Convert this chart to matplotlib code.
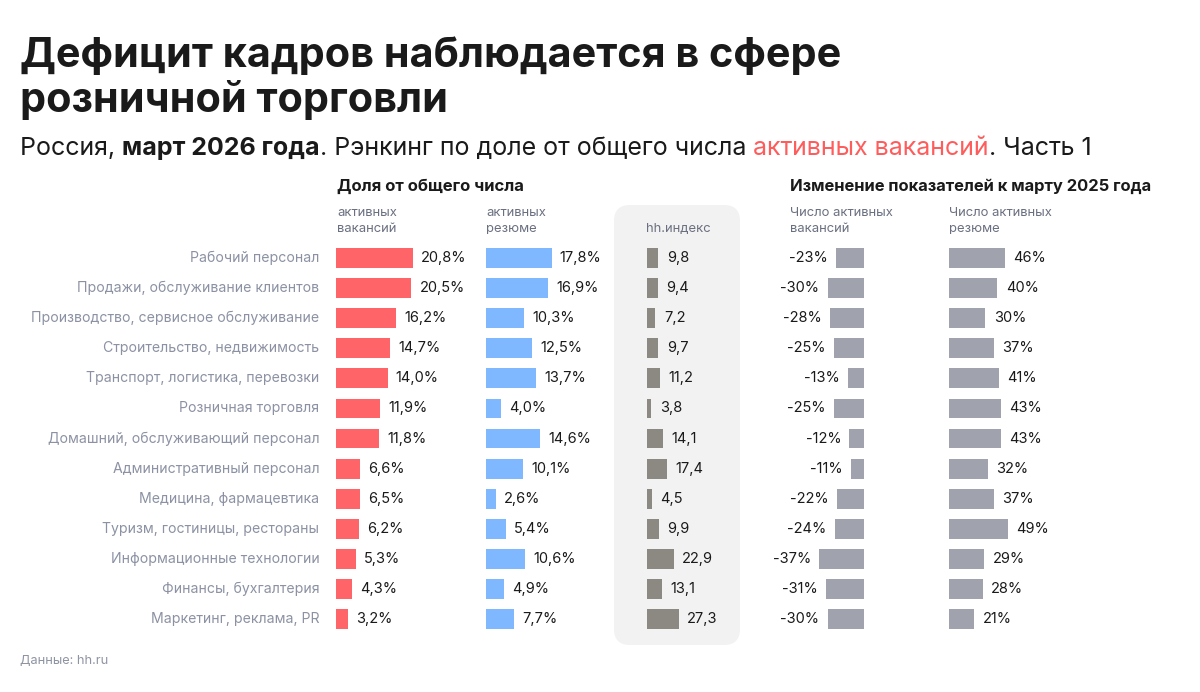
import matplotlib
matplotlib.use("Agg")
import matplotlib.pyplot as plt
from matplotlib.patches import FancyBboxPatch

plt.rcParams['font.family'] = ['Inter', 'DejaVu Sans']

categories = ["Рабочий персонал", "Продажи, обслуживание клиентов",
              "Производство, сервисное обслуживание", "Строительство, недвижимость",
              "Транспорт, логистика, перевозки", "Розничная торговля",
              "Домашний, обслуживающий персонал", "Административный персонал",
              "Медицина, фармацевтика", "Туризм, гостиницы, рестораны",
              "Информационные технологии", "Финансы, бухгалтерия",
              "Маркетинг, реклама, PR"]
share_vacancies = [20.8, 20.5, 16.2, 14.7, 14.0, 11.9, 11.8, 6.6, 6.5, 6.2, 5.3, 4.3, 3.2]
share_resumes = [17.8, 16.9, 10.3, 12.5, 13.7, 4.0, 14.6, 10.1, 2.6, 5.4, 10.6, 4.9, 7.7]
hh_index = [9.8, 9.4, 7.2, 9.7, 11.2, 3.8, 14.1, 17.4, 4.5, 9.9, 22.9, 13.1, 27.3]
change_vacancies = [-23, -30, -28, -25, -13, -25, -12, -11, -22, -24, -37, -31, -30]
change_resumes = [46, 40, 30, 37, 41, 43, 43, 32, 37, 49, 29, 28, 21]

W, H = 1200, 692
fig = plt.figure(figsize=(W / 100, H / 100), dpi=100)
fig.patch.set_facecolor("white")

DARK = "#1a1a1a"
GREY_TXT = "#8c92a3"
SUB_TXT = "#6b7080"
RED = "#ff6468"
BLUE = "#80b8ff"
HHC = "#8b8981"
CHG = "#a0a3ad"


def fx(px):
    return px / W


def fy(py):
    return 1 - py / H


# hh.index panel
panel = FancyBboxPatch((6.14, (H - 645) / 100), 1.26, 4.40,
                       boxstyle="round,pad=0,rounding_size=0.16",
                       transform=fig.dpi_scale_trans, facecolor="#f2f2f2",
                       edgecolor="none", zorder=-5)
fig.patches.append(panel)

# Row geometry
n = len(categories)
row_top, row_step = 243, 30.08
ax_top = row_top
ax_bottom = row_top + row_step * n
BAR_H = 0.66
FS_VAL = 10.5
FS_CAT = 10.15


def make_ax(left_px, width_px, xlim):
    ax = fig.add_axes([fx(left_px), fy(ax_bottom), width_px / W, (ax_bottom - ax_top) / H])
    ax.set_xlim(*xlim)
    ax.set_ylim(n - 0.5, -0.5)
    ax.axis("off")
    ax.patch.set_alpha(0)
    return ax


def fmt1(v):
    return f"{v:.1f}".replace(".", ",")


ys = list(range(n))

# Share of vacancies
SC = 3.68
ax1 = make_ax(336, 130, (0, 130 / SC))
ax1.barh(ys, share_vacancies, height=BAR_H, color=RED)
for y, v in zip(ys, share_vacancies):
    ax1.annotate(fmt1(v) + "%", (v, y), xytext=(6, 0), textcoords="offset points",
                 va="center", ha="left", fontsize=FS_VAL, color=DARK)
for y, c in zip(ys, categories):
    ax1.annotate(c, (0, y), xytext=(-12, 0), textcoords="offset points",
                 va="center", ha="right", fontsize=FS_CAT, color=GREY_TXT)

# Share of resumes
ax2 = make_ax(486, 120, (0, 120 / SC))
ax2.barh(ys, share_resumes, height=BAR_H, color=BLUE)
for y, v in zip(ys, share_resumes):
    ax2.annotate(fmt1(v) + "%", (v, y), xytext=(6, 0), textcoords="offset points",
                 va="center", ha="left", fontsize=FS_VAL, color=DARK)

# hh index
SC_HH = 1.17
ax3 = make_ax(647, 80, (0, 80 / SC_HH))
ax3.barh(ys, hh_index, height=BAR_H, color=HHC)
for y, v in zip(ys, hh_index):
    ax3.annotate(fmt1(v), (v, y), xytext=(6, 0), textcoords="offset points",
                 va="center", ha="left", fontsize=FS_VAL, color=DARK)

# Change of vacancies (bars extend left)
SC_CH = 1.21
ax4 = make_ax(864 - 80, 80, (-80 / SC_CH, 0))
ax4.barh(ys, change_vacancies, height=BAR_H, color=CHG)
for y, v in zip(ys, change_vacancies):
    ax4.annotate(f"{v}%", (v, y), xytext=(-6, 0), textcoords="offset points",
                 va="center", ha="right", fontsize=FS_VAL, color=DARK)

# Change of resumes
ax5 = make_ax(949, 100, (0, 100 / SC_CH))
ax5.barh(ys, change_resumes, height=BAR_H, color=CHG)
for y, v in zip(ys, change_resumes):
    ax5.annotate(f"{v}%", (v, y), xytext=(6, 0), textcoords="offset points",
                 va="center", ha="left", fontsize=FS_VAL, color=DARK)

# Title
fig.text(fx(20), fy(67), "Дефицит кадров наблюдается в сфере", fontsize=29.8,
         fontweight="bold", color=DARK, va="baseline", ha="left")
fig.text(fx(20), fy(112), "розничной торговли", fontsize=29.8,
         fontweight="bold", color=DARK, va="baseline", ha="left")

# Subtitle with mixed styles
pieces = [("Россия, ", "normal", DARK), ("март 2026 года", "bold", DARK),
          (". Рэнкинг по доле от общего числа ", "normal", DARK),
          ("активных вакансий", "normal", "#ff5c5c"), (". Часть 1", "normal", DARK)]
fig.canvas.draw()
renderer = fig.canvas.get_renderer()
x_px = 20
for txt, wt, col in pieces:
    t = fig.text(fx(x_px), fy(155), txt, fontsize=18, fontweight=wt, color=col,
                 va="baseline", ha="left")
    bb = t.get_window_extent(renderer=renderer)
    x_px += bb.width

# Section headers
fig.text(fx(337), fy(191), "Доля от общего числа", fontsize=12, fontweight="bold",
         color=DARK, va="baseline", ha="left")
fig.text(fx(790), fy(191), "Изменение показателей к марту 2025 года", fontsize=11.9,
         fontweight="bold", color=DARK, va="baseline", ha="left")

# Column sub headers
FS_SUB = 9.4
fig.text(fx(337), fy(216), "активных", fontsize=FS_SUB, color=SUB_TXT, va="baseline")
fig.text(fx(337), fy(232), "вакансий", fontsize=FS_SUB, color=SUB_TXT, va="baseline")
fig.text(fx(486), fy(216), "активных", fontsize=FS_SUB, color=SUB_TXT, va="baseline")
fig.text(fx(486), fy(232), "резюме", fontsize=FS_SUB, color=SUB_TXT, va="baseline")
fig.text(fx(646), fy(232), "hh.индекс", fontsize=FS_SUB, color=SUB_TXT, va="baseline")
fig.text(fx(790), fy(216), "Число активных", fontsize=FS_SUB, color=SUB_TXT, va="baseline")
fig.text(fx(790), fy(232), "вакансий", fontsize=FS_SUB, color=SUB_TXT, va="baseline")
fig.text(fx(949), fy(216), "Число активных", fontsize=FS_SUB, color=SUB_TXT, va="baseline")
fig.text(fx(949), fy(232), "резюме", fontsize=FS_SUB, color=SUB_TXT, va="baseline")

# Footer
fig.text(fx(20), fy(664), "Данные: hh.ru", fontsize=9.2, color="#8f94a2", va="baseline")

fig.savefig("out.png", dpi=100, facecolor="white")
